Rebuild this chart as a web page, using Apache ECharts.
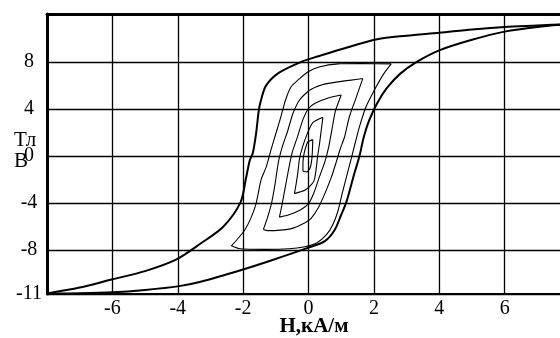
<!DOCTYPE html>
<html><head><meta charset="utf-8">
<script src="https://cdn.jsdelivr.net/npm/echarts@6/dist/echarts.min.js"></script>
<style>html,body{margin:0;padding:0;background:#fff}#c{width:560px;height:338px}</style>
</head><body><div id="c"></div>
<script>
// Axis ticks
const xTickLabels = [-6, -4, -2, 0, 2, 4, 6];
const yTickValues = [-11.75, -8, -4, 0, 4, 8];
const yTickLabels = ['-11', '-8', '-4', '0', '4', '8'];
const xName = 'Н,кА/м';
const yNameTop = 'Тл';
const yNameBottom = 'В';

// Major hysteresis loop [H, B]
const majorDescending = [[8,11.25],[7,11.12],[6,11.0],[5,10.78],[4,10.5],[3,10.25],[2.1,9.95],[1,9.1],[0.3,8.5],[-0.2,8.05],[-0.9,7.1],[-1.3,6.0],[-1.45,4.8],[-1.52,3.9],[-1.6,2.0],[-1.7,0.3],[-1.8,-0.4],[-1.92,-2.0],[-2.08,-3.95],[-2.6,-6.0],[-3.3,-7.45],[-4.07,-8.85],[-5,-9.8],[-6,-10.5],[-7,-11.2],[-8,-11.7]];
const majorAscending = [[-8,-11.7],[-7,-11.68],[-6,-11.6],[-5,-11.4],[-4,-11.1],[-3.3,-10.7],[-2.05,-9.7],[-1.1,-8.85],[0,-7.8],[0.5,-7.25],[0.8,-6.3],[1.0,-5.0],[1.16,-3.9],[1.4,-1.5],[1.56,0],[1.68,1.5],[1.85,3],[2.1,4.5],[2.4,5.8],[2.8,7.0],[3.3,8.0],[4.0,9.0],[5,9.9],[6,10.6],[7,11.0],[8,11.25]];

// Minor loops: descending and ascending branches [H, B]
const loop1Desc = [[2.53,7.85],[1.6,7.88],[0.9,7.85],[0.35,7.6],[0.0,7.2],[-0.27,6.6],[-0.53,5.9],[-0.7,4.8],[-0.85,3.3],[-1.0,1.9],[-1.15,0.5],[-1.29,-0.9],[-1.45,-2.0],[-1.6,-4.0],[-1.75,-5.2],[-1.95,-6.3],[-2.15,-7.0],[-2.36,-7.65]];
const loop1Asc = [[-2.36,-7.65],[-2.1,-7.9],[-1.3,-7.95],[-0.6,-7.9],[-0.15,-7.75],[0.25,-7.4],[0.55,-6.7],[0.75,-5.8],[0.9,-4.7],[1.02,-3.3],[1.15,-1.9],[1.3,-0.3],[1.4,0.8],[1.56,2.5],[1.76,4.2],[2.07,5.9],[2.3,7.0],[2.53,7.85]];
const loop2Desc = [[1.66,6.6],[1.25,6.45],[0.85,6.3],[0.44,6.1],[0.03,5.6],[-0.27,4.8],[-0.48,3.6],[-0.63,2.2],[-0.8,0.8],[-0.92,-0.5],[-1.03,-2.5],[-1.13,-4.0],[-1.25,-5.2],[-1.38,-6.25]];
const loop2Asc = [[-1.38,-6.25],[-1.25,-6.35],[-0.55,-6.2],[-0.12,-5.7],[0.08,-5.3],[0.3,-4.4],[0.5,-3.2],[0.7,-1.8],[0.85,-0.5],[0.97,0.6],[1.1,1.6],[1.25,3.35],[1.46,5.0],[1.66,6.6]];
const loop3Desc = [[1.0,5.2],[0.6,4.95],[0.2,4.5],[0.0,4.05],[-0.17,3.1],[-0.33,1.7],[-0.5,0.3],[-0.6,-1.0],[-0.7,-2.5],[-0.8,-4.0],[-0.89,-5.2]];
const loop3Asc = [[-0.89,-5.2],[-0.6,-5.0],[-0.25,-4.6],[0.0,-4.05],[0.17,-3.1],[0.33,-1.8],[0.5,-0.5],[0.62,0.8],[0.72,2.3],[0.82,3.8],[1.0,5.2]];
const loop4Desc = [[0.44,3.3],[0.13,2.85],[-0.03,1.95],[-0.18,0.8],[-0.28,-0.3],[-0.33,-1.5],[-0.38,-2.4],[-0.43,-3.2]];
const loop4Asc = [[-0.43,-3.2],[-0.1,-2.9],[0.1,-2.4],[0.18,-2.0],[0.23,-1.2],[0.28,0],[0.34,1.1],[0.39,2.2],[0.44,3.3]];
const loop5Desc = [[0.13,1.4],[-0.02,1.2],[-0.1,0.6],[-0.15,0],[-0.17,-0.6],[-0.17,-1.3]];
const loop5Asc = [[-0.17,-1.3],[-0.05,-1.35],[0.05,-1.0],[0.1,-0.3],[0.12,0.5],[0.13,1.4]];

const chart = echarts.init(document.getElementById('c'), null, {renderer: 'canvas'});
const serif = '"Liberation Serif", "DejaVu Serif", serif';

function line(data, width, smooth) {
  return {type: 'line', data: data, showSymbol: false, symbol: 'none', smooth: smooth,
    lineStyle: {color: '#000', width: width}, silent: true, animation: false, clip: true};
}
const minorLoops = [loop1Desc, loop1Asc, loop2Desc, loop2Asc, loop3Desc, loop3Asc, loop4Desc, loop4Asc, loop5Desc, loop5Asc];

chart.setOption({
  animation: false,
  backgroundColor: '#fff',
  grid: {left: 47, top: 14, width: 523, height: 280, outerBoundsMode: 'none', containLabel: false},
  xAxis: [{
    type: 'value', min: -8, max: 8, interval: 2, position: 'bottom',
    axisLine: {show: true, onZero: false, lineStyle: {color: '#000', width: 2}},
    axisTick: {show: false},
    splitLine: {show: true, lineStyle: {color: '#000', width: 1.3}},
    axisLabel: {color: '#000', fontFamily: serif, fontSize: 20, margin: 5,
      formatter: function (v) { return xTickLabels.indexOf(v) >= 0 ? String(v) : ''; }},
    name: xName, nameLocation: 'middle', nameGap: 22, nameMoveOverlap: false,
    nameTextStyle: {color: '#000', fontFamily: serif, fontSize: 21, fontWeight: 'bold', padding: [0, 0, 0, 11]}
  }, {
    type: 'value', min: -8, max: 8, position: 'top',
    axisLine: {show: true, onZero: false, lineStyle: {color: '#000', width: 3}},
    axisTick: {show: false}, axisLabel: {show: false}, splitLine: {show: false}
  }],
  yAxis: [{
    type: 'value', min: -11.75, max: 12.1,
    axisLine: {show: true, onZero: false, lineStyle: {color: '#000', width: 3}},
    axisTick: {show: false, customValues: yTickValues},
    splitLine: {show: true, lineStyle: {color: '#000', width: 1.3}},
    axisLabel: {color: '#000', fontFamily: serif, fontSize: 20, margin: 18, align: 'center',
      customValues: yTickValues,
      formatter: function (v) { const i = yTickValues.indexOf(v); return i >= 0 ? yTickLabels[i] : ''; }}
  }],
  graphic: [
    {type: 'text', left: 14, top: 130, style: {text: yNameTop, fontFamily: serif, fontSize: 21, fill: '#000'}},
    {type: 'text', left: 14, top: 151, style: {text: yNameBottom, fontFamily: serif, fontSize: 21, fill: '#000'}}
  ],
  series: [line(majorDescending, 2, 0.3), line(majorAscending, 2, 0.3)]
    .concat(minorLoops.map(function (d) { return line(d, 1.1, 0.2); }))
});
</script></body></html>
